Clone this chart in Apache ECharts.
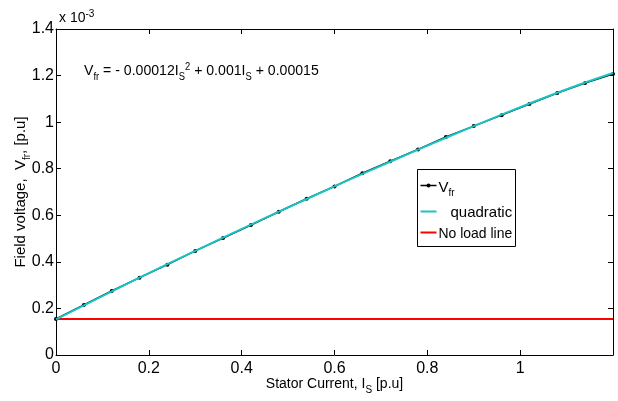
<!DOCTYPE html>
<html><head><meta charset="utf-8">
<script src="https://cdn.jsdelivr.net/npm/echarts@6/dist/echarts.min.js"></script>
<style>html,body{margin:0;padding:0;background:#fff}#c{width:618px;height:401px}</style>
</head><body><div id="c"></div>
<script>
// Stator current I_S [p.u]
var current = [0, 0.06, 0.12, 0.18, 0.24, 0.30, 0.36, 0.42, 0.48, 0.54, 0.60, 0.66, 0.72, 0.78, 0.84, 0.90, 0.96, 1.02, 1.08, 1.14, 1.20];
// Field voltage V_fr (x 10^-3 p.u), measured points
var vfr = [0.155, 0.215, 0.275, 0.332, 0.388, 0.447, 0.502, 0.558, 0.615, 0.671, 0.724, 0.781, 0.832, 0.883, 0.936, 0.983, 1.030, 1.078, 1.125, 1.168, 1.207];
// Quadratic fit (x 10^-3 p.u)
var quad = [0.153, 0.213, 0.273, 0.332, 0.390, 0.447, 0.504, 0.560, 0.616, 0.670, 0.724, 0.778, 0.830, 0.882, 0.933, 0.983, 1.032, 1.080, 1.126, 1.170, 1.211];
// No-load line level (x 10^-3 p.u)
var noLoad = 0.155;
var xRange = [0, 1.2];
var yRange = [0, 1.4];

var FF = '"Liberation Sans Narrow", "Liberation Sans", Arial, sans-serif';
function pairs(xs, ys){ return xs.map(function(x,i){return [x, ys[i]];}); }
var chart = echarts.init(document.getElementById('c'));
var axisCommon = {
  axisLine:{show:true, onZero:false, lineStyle:{color:'#000', width:1}},
  axisTick:{show:true, inside:true, length:5, lineStyle:{color:'#000'}},
  splitLine:{show:false}
};
function fmt(v){return String(Math.round(v*10)/10);}
chart.setOption({
  animation:false,
  backgroundColor:'#fff',
  grid:{left:56, right:5, top:29, bottom:46, outerBoundsMode:'none', containLabel:false},
  xAxis:[
    Object.assign({type:'value', min:xRange[0], max:xRange[1], interval:0.2, position:'bottom',
      axisLabel:{color:'#000', fontFamily:FF, fontSize:16, margin:6, showMaxLabel:false, formatter:fmt},
      name:'{a|Stator Current, I}{s|S}{a| [p.u]}', nameLocation:'middle', nameGap:18, nameMoveOverlap:false,
      nameTextStyle:{rich:{a:{fontFamily:FF, fontSize:14, color:'#000'}, s:{fontFamily:FF, fontSize:10, color:'#000', padding:[12,0,0,0]}}}
    }, axisCommon),
    Object.assign({type:'value', min:xRange[0], max:xRange[1], interval:0.2, position:'top', axisLabel:{show:false}}, axisCommon)
  ],
  yAxis:[
    Object.assign({type:'value', min:yRange[0], max:yRange[1], interval:0.2, position:'left',
      axisLabel:{color:'#000', fontFamily:FF, fontSize:16, margin:2, formatter:fmt},
      name:'{a|Field voltage,  V}{s|fr}{a|, [p.u]}', nameLocation:'middle', nameGap:24, nameRotate:90, nameMoveOverlap:false,
      nameTextStyle:{rich:{a:{fontFamily:FF, fontSize:15, color:'#000'}, s:{fontFamily:FF, fontSize:10, color:'#000', padding:[12,0,0,0]}}}
    }, axisCommon),
    Object.assign({type:'value', min:yRange[0], max:yRange[1], interval:0.2, position:'right', axisLabel:{show:false}}, axisCommon)
  ],
  series:[
    {name:'Vfr', type:'line', data:pairs(current, vfr), symbol:'circle', symbolSize:4,
      lineStyle:{color:'#000', width:1.5}, itemStyle:{color:'#000'}, z:2},
    {name:'quadratic', type:'line', data:pairs(current, quad), symbol:'none',
      lineStyle:{color:'#18c4c4', width:2}, itemStyle:{color:'#18c4c4'}, z:3},
    {name:'No load line', type:'line', data:[[xRange[0], noLoad],[xRange[1], noLoad]], symbol:'none',
      lineStyle:{color:'#ff0000', width:2}, itemStyle:{color:'#ff0000'}, z:1}
  ],
  graphic:[
    {type:'text', left:59, top:9, style:{rich:{a:{fontFamily:FF, fontSize:14, fill:'#000'}, p:{fontFamily:FF, fontSize:10, fill:'#000', padding:[0,0,8,0]}}, text:'{a|x 10}{p|-3}'}},
    {type:'text', left:84, top:62, style:{
      rich:{a:{fontFamily:FF, fontSize:15, fill:'#000'}, s:{fontFamily:FF, fontSize:10, fill:'#000', padding:[12,0,0,0]}, p:{fontFamily:FF, fontSize:10, fill:'#000', padding:[0,0,8,0]}},
      text:'{a|V}{s|fr}{a| = - 0.00012I}{s|S}{p|2}{a| + 0.001I}{s|S}{a| + 0.00015}'}, scaleX:0.94},
    // legend box
    {type:'group', left:417, top:169, z:100, children:[
      {type:'rect', shape:{x:0, y:0, width:98, height:77}, style:{fill:'#fff', stroke:'#000', lineWidth:1}},
      {type:'line', shape:{x1:3, y1:16, x2:19, y2:16}, style:{stroke:'#000', lineWidth:1.5}},
      {type:'circle', shape:{cx:11, cy:16, r:2}, style:{fill:'#000'}},
      {type:'text', x:21, y:7, style:{rich:{a:{fontFamily:FF, fontSize:15, fill:'#000'}, s:{fontFamily:FF, fontSize:10, fill:'#000', padding:[12,0,0,0]}}, text:'{a|V}{s|fr}'}},
      {type:'line', shape:{x1:3, y1:42, x2:19, y2:42}, style:{stroke:'#18c4c4', lineWidth:2}},
      {type:'text', x:33, y:36, style:{fontFamily:FF, fontSize:15, fill:'#000', text:'quadratic'}},
      {type:'line', shape:{x1:3, y1:63, x2:19, y2:63}, style:{stroke:'#ff0000', lineWidth:2}},
      {type:'text', x:21, y:57, style:{fontFamily:FF, fontSize:15, fill:'#000', text:'No load line'}, scaleX:0.93}
    ]}
  ]
});
</script></body></html>
